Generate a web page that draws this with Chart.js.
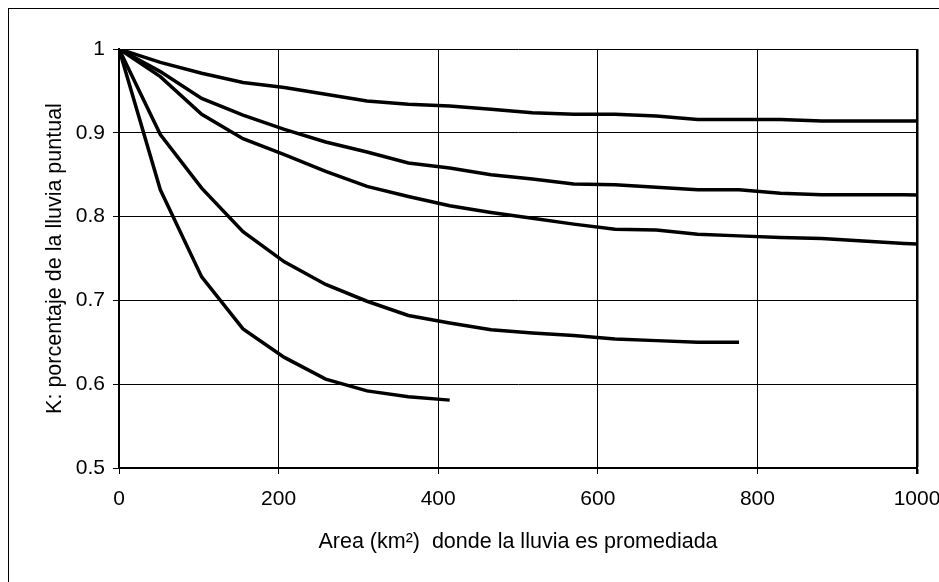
<!DOCTYPE html>
<html>
<head>
<meta charset="utf-8">
<script src="https://cdn.jsdelivr.net/npm/chart.js@4.4.1/dist/chart.umd.min.js"></script>
<style>
  html, body { margin: 0; padding: 0; background: #fff; }
  #wrap { position: relative; width: 939px; height: 582px; overflow: hidden; }
  #frame { position: absolute; left: 8px; top: 8px; width: 1200px; height: 1200px;
           border-left: 1px solid #000; border-top: 1px solid #000; pointer-events: none; }
</style>
</head>
<body>
<div id="wrap">
  <canvas id="chart" width="939" height="582"></canvas>
  <div id="frame"></div>
</div>
<script>
// Area (km2) where the rain is averaged, one value per 20 sq mi step
const areaKm = [0, 51.8, 103.6, 155.4, 207.2, 259, 310.8, 362.6, 414.4, 466.2, 518,
                569.8, 621.6, 673.4, 725.2, 777, 828.8, 880.6, 932.4, 984.2, 1036];

// K values (top to bottom)
const curve1 = [1, 0.984, 0.971, 0.960, 0.954, 0.946, 0.938, 0.934, 0.932, 0.928, 0.924,
                0.922, 0.922, 0.920, 0.916, 0.916, 0.916, 0.914, 0.914, 0.914, 0.914];
const curve2 = [1, 0.973, 0.941, 0.921, 0.904, 0.889, 0.877, 0.864, 0.858, 0.850, 0.845,
                0.839, 0.838, 0.835, 0.832, 0.832, 0.828, 0.826, 0.826, 0.826, 0.825];
const curve3 = [1, 0.967, 0.922, 0.893, 0.874, 0.854, 0.836, 0.824, 0.813, 0.805, 0.798,
                0.791, 0.785, 0.784, 0.779, 0.777, 0.775, 0.774, 0.771, 0.768, 0.766];
const curve4 = [1, 0.898, 0.834, 0.782, 0.746, 0.719, 0.699, 0.682, 0.673, 0.665, 0.661,
                0.658, 0.654, 0.652, 0.650, 0.650];
const curve5 = [1, 0.832, 0.728, 0.666, 0.632, 0.606, 0.592, 0.585, 0.581];

const xTicks = [0, 200, 400, 600, 800, 1000];
const yTicks = [0.5, 0.6, 0.7, 0.8, 0.9, 1];

function toPoints(values) {
  return values.map((v, i) => ({ x: areaKm[i], y: v }));
}

const curves = [curve1, curve2, curve3, curve4, curve5];
const datasets = curves.map(c => ({
  data: toPoints(c),
  borderColor: '#000',
  borderWidth: 3.5,
  pointRadius: 0,
  tension: 0,
  fill: false,
  clip: 0
}));

const fontFamily = 'Liberation Sans, Arial, sans-serif';
const tickFont = { family: fontFamily, size: 21 };
const titleFont = { family: fontFamily, size: 21.5 };

new Chart(document.getElementById('chart').getContext('2d'), {
  type: 'line',
  data: { datasets: datasets },
  options: {
    responsive: false,
    animation: false,
    layout: { padding: { left: 0, top: 49, right: 22, bottom: 0 } },
    plugins: { legend: { display: false }, tooltip: { enabled: false } },
    scales: {
      x: {
        type: 'linear',
        min: 0,
        max: 1000,
        afterBuildTicks: s => { s.ticks = xTicks.map(v => ({ value: v })); },
        afterFit: s => { s.height = 114; s.paddingLeft = 0; s.paddingRight = 0; },
        ticks: { color: '#000', font: tickFont, padding: 13, maxRotation: 0,
                 callback: v => String(v) },
        grid: {
          color: '#000',
          lineWidth: ctx => ctx.tick && ctx.tick.value === 1000 ? 2.5 : 1,
          tickLength: 6
        },
        border: { color: '#000', width: 2 },
        title: {
          display: true,
          text: 'Area (km²)  donde la lluvia es promediada',
          color: '#000',
          font: titleFont,
          padding: { top: 0, bottom: 27 }
        }
      },
      y: {
        type: 'linear',
        min: 0.5,
        max: 1,
        afterBuildTicks: s => { s.ticks = yTicks.map(v => ({ value: v })); },
        afterFit: s => { s.width = 119; s.paddingTop = 0; s.paddingBottom = 0; },
        ticks: {
          color: '#000',
          font: tickFont,
          padding: 8,
          callback: v => String(Math.round(v * 10) / 10)
        },
        grid: { color: '#000', lineWidth: 1, tickLength: 6 },
        border: { color: '#000', width: 2 },
        title: {
          display: true,
          text: 'K: porcentaje de la lluvia puntual',
          color: '#000',
          font: titleFont,
          padding: { top: 42, bottom: 0 }
        }
      }
    }
  }
});
</script>
</body>
</html>
